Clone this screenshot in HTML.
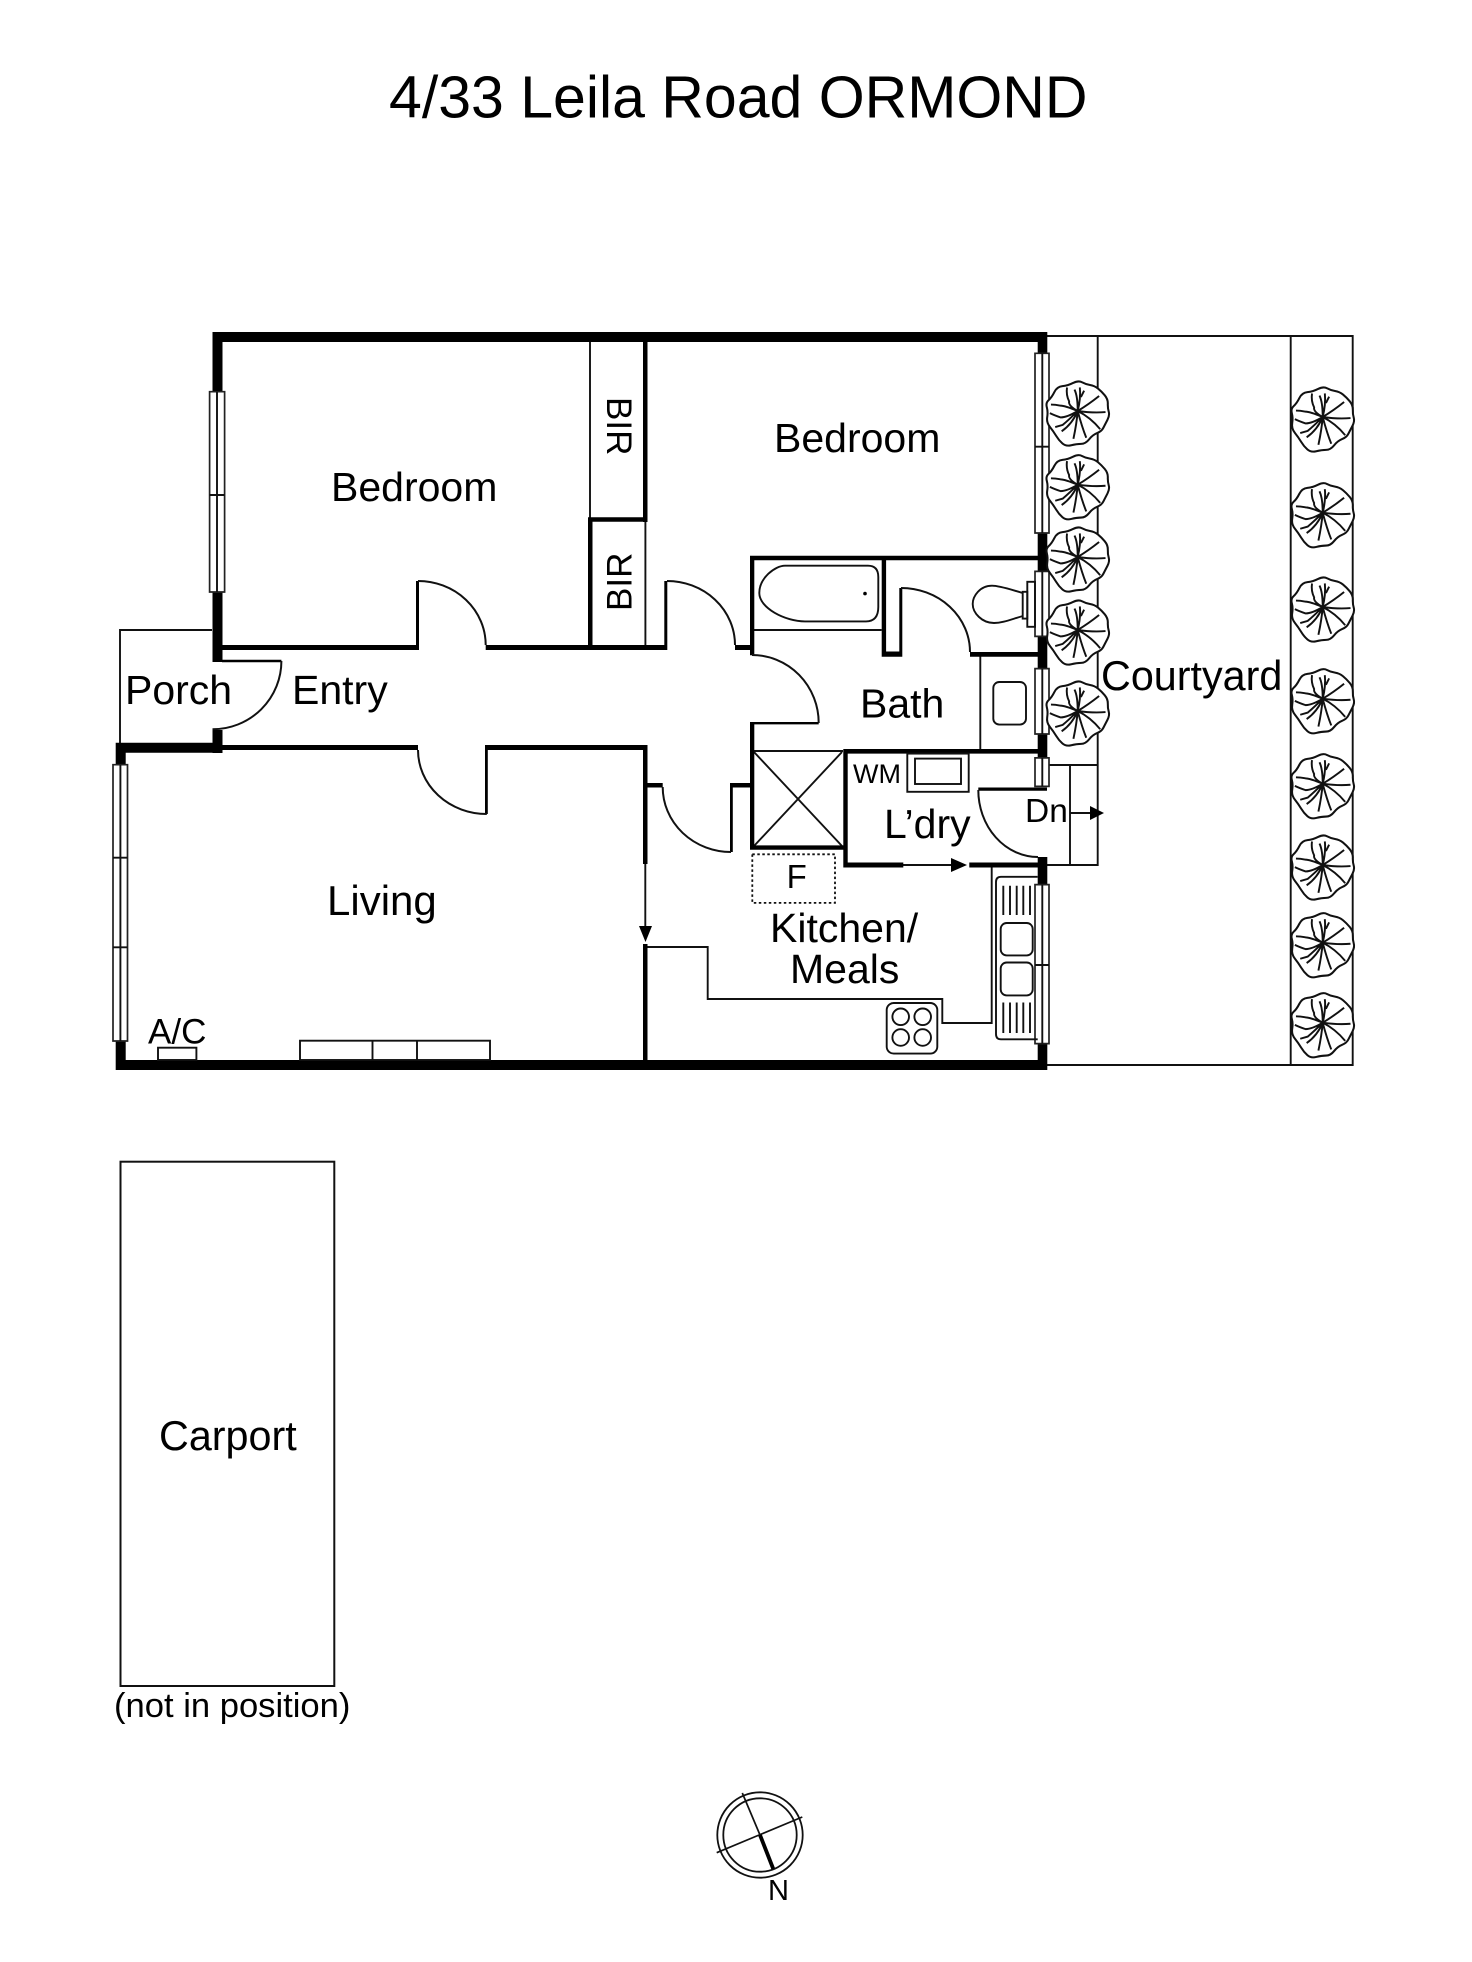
<!DOCTYPE html>
<html lang="en">
<head>
<meta charset="utf-8">
<title>4/33 Leila Road ORMOND</title>
<style>
html,body{margin:0;padding:0;background:#fff}
svg{display:block}
text{font-family:"Liberation Sans",Arial,sans-serif;fill:#000}
.t{fill:none;stroke:#111;stroke-width:1.9}
.d{fill:none;stroke:#111;stroke-width:2}
.w{fill:#fff;stroke:#222;stroke-width:1.7}
</style>
</head>
<body>
<svg xmlns="http://www.w3.org/2000/svg" width="1472" height="1962" viewBox="0 0 1472 1962">
<defs>
<g id="tree" transform="scale(1.07)">
<path d="M4,-26.85Q7.3,-25 11.5,-24.35Q15.7,-23.7 19,-21Q22.3,-18.3 25.3,-14.65Q28.3,-11 28.15,-6.85Q28,-2.7 29,.65Q30,4 27.85,8.15Q25.7,12.3 24,15.65Q22.3,19 18.15,20.65Q14,22.3 10.65,26.5Q7.3,30.7 3.15,30.7Q-1,30.7 -6,32Q-11,33.3 -14.35,30.3Q-17.7,27.3 -20.2,23.15Q-22.7,19 -26,14.85Q-29.3,10.7 -28.5,5.7Q-27.7,.7 -28.85,-3.5Q-30,-7.7 -27.15,-10.2Q-24.3,-12.7 -21.8,-17.7Q-19.3,-22.7 -14.3,-23.2Q-9.3,-23.7 -4.3,-26.2Q.7,-28.7 4,-26.85Z" fill="#fff" stroke="#111" stroke-width="1.9"/>
<path d="M0,0Q3,-12 2,-22M0,0Q0,-14 -3,-20M3,-13L6,-19M0,0Q-9,-5 -8,-9Q-11,-15 -10,-22M0,0Q-12,-5 -16,-5Q-21,-6 -25,-6M0,0Q-10,6 -16,6Q-22,4 -26,2M0,0Q-8,8 -14,13L-21,15M0,0Q-5,12 -15,19M0,0Q-1,12 -4,26M0,0Q4,15 8,25M0,0Q12,6 21,17M0,0Q14,2 26,1M0,0Q10,-6 20,-14" fill="none" stroke="#111" stroke-width="1.8"/>
</g>
</defs>

<rect width="1472" height="1962" fill="#fff"/>

<text x="389" y="117.5" font-size="59">4/33 Leila Road ORMOND</text>

<g class="t">
<path d="M1047,336H1352.7V1065H1047M1097.7,336V865H1047M1290.7,336V1065M1049,765H1097.7M1070,765V865M1070,813H1092"/>
<path d="M120,773V630H212M590,342V518M645.4,521V648M753,630H881.7M980.3,656V749"/>
<path d="M754,751H843M754,752L842,846M842,752L754,846"/>
<path d="M647,947H707.7V999H942.3V1023H991.7V867.5M645.3,864V928M903,865H953"/>
</g>
<path d="M1090,806L1104,813L1090,820ZM951,858L967,865L951,872ZM639,926H652L645.5,942Z"/>

<path fill="#000" d="M212.5,332h834.8v10h-834.8ZM212.5,332h10v60h-10ZM212.5,592h10v70h-10ZM212.5,730h10v23h-10ZM115.7,742.7h106.8v10h-106.8ZM115.7,742.7h10v24h-10ZM115.7,1040h10v30h-10ZM115.7,1060h931.6v10h-931.6ZM222,645h196v5h-196ZM416,581h3v69h-3ZM485.7,645h181.5v5h-181.5ZM664.3,581h3v69h-3ZM735,645h19v5h-19ZM222,659.7h59.4v2.6h-59.4ZM222,745h196v5h-196ZM485,745h162.5v5h-162.5ZM485,745h2.8v69h-2.8ZM643,342h4.5v180h-4.5ZM588,517.3h59.5v4.5h-59.5ZM588,517.3h4.5v132h-4.5ZM643,745h4.5v119h-4.5ZM643,944h4.5v120h-4.5ZM647,783h15.7v4.5h-15.7ZM750,555.7h288v4.5h-288ZM750,555.7h4.3v99.5h-4.3ZM750,722h68.7v2.4h-68.7ZM750,722h4.3v127.6h-4.3ZM750,845.4h97.7v4.3h-97.7ZM730,783h20v4.5h-20ZM730,784h2.8v68h-2.8ZM881.7,555.7h4.4v101h-4.4ZM881.7,651.5h20.5v5.3h-20.5ZM899.3,588h3v68.8h-3ZM970,652h68v4.8h-68ZM843.3,749h195v4.6h-195ZM843.3,749h4.4v118.5h-4.4ZM843.3,862.5h60v5h-60ZM969.3,862.5h69v5h-69ZM978.3,787.5h68.7v3.2h-68.7ZM1037.7,336h9.6v18h-9.6ZM1037.7,533h9.6v39h-9.6ZM1037.7,636h9.6v33h-9.6ZM1037.7,733h9.6v25h-9.6ZM1037.7,857h9.6v28h-9.6ZM1037.7,1043h9.6v27h-9.6Z"/>

<path class="w" d="M209.6,391.7h15v200.3h-15ZM113,764.7h14.5v276.3h-14.5ZM1035,353.3h14v179.7h-14ZM1035,571.4h14v65h-14ZM1035,668.6h14v65.4h-14ZM1035,757.9h14v28.5h-14ZM1035,884.6h14v159h-14Z"/>
<path class="t" d="M217,391.7V592M209.6,495H224.6M120.4,764.7V1041M113,857.7H127.5M113,947.3H127.5M1042.3,353.3V533M1035,446.7H1049M1042.3,571.4V636.4M1042.3,668.6V734M1042.3,757.9V786.4M1042.3,884.6V1043.6M1035,965H1049"/>

<path class="d" d="M418,581A67.7,64 0 0 1 485.7,645M418,750A68.8,64 0 0 0 486.8,814M281.4,661A68.9,68.3 0 0 1 212.5,729.3M667,581A68,64 0 0 1 735,645M752,655A66.7,68 0 0 1 818.7,723M901,588A69,64 0 0 1 970,652M662.7,787A68.3,65 0 0 0 731,852M978.3,790A59.7,67 0 0 0 1038,857"/>

<g class="t">
<path d="M785,565.7H868Q878.3,565.7 878.3,577V607Q878.3,621.4 866,621.4H805C785,621.4 759.3,608 759.3,593C759.3,578 775,565.7 785,565.7Z"/>
<rect x="1027.3" y="581.8" width="7.7" height="45"/>
<rect x="1022.7" y="591.8" width="4.6" height="26.8"/>
<path d="M1023,593C1012,590 1000,585.7 992,585.7C980,585.7 972.7,596 972.7,604C972.7,613 982,623 994,623C1003,623 1012,619 1023,616"/>
<rect x="993.3" y="682" width="32.7" height="42.6" rx="6"/>
<rect x="907.3" y="753.6" width="61.4" height="38.2"/>
<rect x="915" y="758.6" width="46" height="25.4"/>
<rect x="158" y="1047.7" width="38.4" height="12.3"/>
<rect x="300" y="1040.7" width="190" height="19.3"/>
<path d="M372.5,1040.7V1060M417,1040.7V1060"/>
<rect x="886.7" y="1003" width="50.6" height="50.6" rx="7"/>
<circle cx="900.7" cy="1016.8" r="8.3"/>
<circle cx="922.7" cy="1016.8" r="8.3"/>
<circle cx="900.7" cy="1037.5" r="8.3"/>
<circle cx="922.7" cy="1037.5" r="8.3"/>
<path d="M1037.7,876.8H1001Q996,876.8 996,882V1034Q996,1039.3 1001,1039.3H1037.7"/>
<rect x="1000.7" y="923" width="32" height="32.4" rx="6"/>
<rect x="1000.7" y="962.5" width="32" height="32.9" rx="6"/>
<path d="M1003.3,885.7V915M1010,885.7V915M1016.7,885.7V915M1023.3,885.7V915M1030,885.7V915M1003.3,1002.5V1033M1010,1002.5V1033M1016.7,1002.5V1033M1023.3,1002.5V1033M1030,1002.5V1033"/>
</g>
<circle cx="865" cy="593.6" r="1.8"/>
<rect x="752.3" y="854.3" width="82.7" height="48.6" fill="none" stroke="#111" stroke-width="1.8" stroke-dasharray="2.5 2.5"/>

<use href="#tree" x="1077.7" y="411"/>
<use href="#tree" x="1077.7" y="484.7"/>
<use href="#tree" x="1077.7" y="557"/>
<use href="#tree" x="1077.7" y="630"/>
<use href="#tree" x="1077.7" y="711"/>
<use href="#tree" x="1322.7" y="417"/>
<use href="#tree" x="1322.7" y="512.7"/>
<use href="#tree" x="1322.7" y="607"/>
<use href="#tree" x="1322.7" y="698.7"/>
<use href="#tree" x="1322.7" y="783.7"/>
<use href="#tree" x="1322.7" y="865"/>
<use href="#tree" x="1322.7" y="942.7"/>
<use href="#tree" x="1322.7" y="1022.7"/>

<rect x="120.5" y="1161.7" width="213.8" height="524.3" fill="none" stroke="#111" stroke-width="2"/>

<text x="331" y="501" font-size="41">Bedroom</text>
<text x="774" y="452" font-size="41">Bedroom</text>
<text x="125" y="704" font-size="41">Porch</text>
<text x="292" y="704" font-size="41">Entry</text>
<text x="327" y="915" font-size="42">Living</text>
<text x="860" y="717.5" font-size="41">Bath</text>
<text x="884" y="838" font-size="41">L’dry</text>
<text x="770" y="941.8" font-size="41">Kitchen/</text>
<text x="790" y="983" font-size="41">Meals</text>
<text x="1101" y="690" font-size="41.3">Courtyard</text>
<text x="159" y="1450" font-size="41.3">Carport</text>
<text x="114" y="1717" font-size="34.6">(not in position)</text>
<text x="1025" y="822" font-size="33.5">Dn</text>
<text x="853" y="783" font-size="27">WM</text>
<text x="796.7" y="888" font-size="33" text-anchor="middle">F</text>
<text x="148" y="1043.5" font-size="35">A/C</text>
<text transform="translate(607,397) rotate(90)" font-size="35">BIR</text>
<text transform="translate(631.4,611) rotate(-90)" font-size="35">BIR</text>

<circle cx="760" cy="1835" r="42.7" fill="none" stroke="#111" stroke-width="1.8"/>
<circle cx="760" cy="1835" r="36.7" fill="none" stroke="#111" stroke-width="1.8"/>
<path d="M742.3,1793L760,1835M716.7,1852.7L802.3,1817" stroke="#111" stroke-width="1.7" fill="none"/>
<path d="M760,1835L773.3,1869" stroke="#000" stroke-width="3.8" fill="none"/>
<text x="768" y="1900" font-size="29">N</text>
</svg>
</body>
</html>
